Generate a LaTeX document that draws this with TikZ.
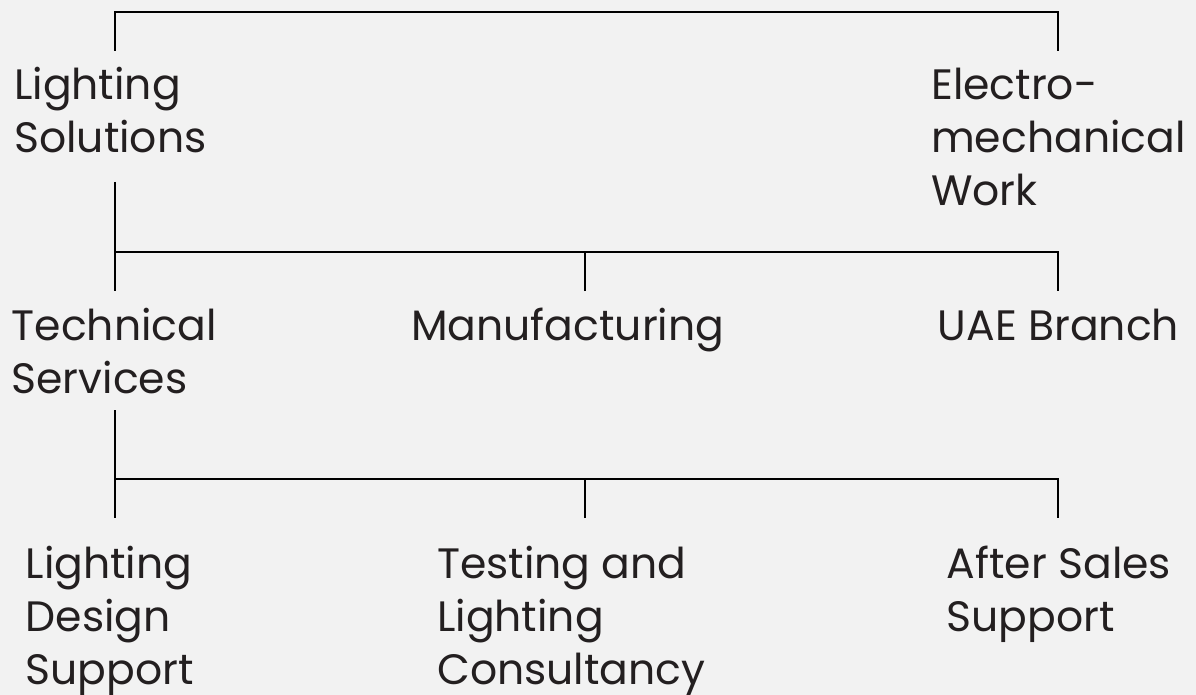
\documentclass[tikz,border=0pt]{standalone}
\usepackage{fontspec}
\setmainfont{Poppins}
\usepackage{tikz}

\definecolor{paper}{HTML}{F2F2F2}
\definecolor{ink}{HTML}{231F20}

\tikzset{
    unit/.style={anchor=base west, align=left, inner sep=0pt, text=ink,
        font=\fontsize{42.5}{53}\selectfont},
    link/.style={line width=1.6pt, black}
}

\begin{document}
\begin{tikzpicture}[
            x=1pt, y=-1pt,
            declare function={
                LeftX=115;
                MidX=585;
                RightX=1058;
                BusOne=252;
                BusTwo=479;
            }
        ]
            \fill[paper] (0, 0) rectangle (1196, 695);
            \useasboundingbox (0, 0) rectangle (1196, 695);

            % top level (base = last line)
            \node[unit] (lighting) at (14, 153) {Lighting\\Solutions};
            \node[unit] (electro) at (931, 206) {Electro-\\mechanical\\Work};

            % second level
            \node[unit] (technical) at (11.5, 393) {Technical\\Services};
            \node[unit] (manufact) at (411, 340) {Manufacturing};
            \node[unit] (uae) at (937.5, 340) {UAE Branch};

            % third level
            \node[unit] (design) at (25.5, 684) {Lighting\\Design\\Support};
            \node[unit] (testing) at (437, 684) {Testing and\\Lighting\\Consultancy};
            \node[unit] (aftersales) at (946.5, 631) {After Sales\\Support};

            % line ends
            \coordinate (lighting-in) at (LeftX, 51);
            \coordinate (electro-in) at (RightX, 51);
            \coordinate (lighting-out) at (LeftX, 182);
            \coordinate (technical-in) at (LeftX, 291);
            \coordinate (manufact-in) at (MidX, 291);
            \coordinate (uae-in) at (RightX, 291);
            \coordinate (technical-out) at (LeftX, 410);
            \coordinate (design-in) at (LeftX, 518);
            \coordinate (testing-in) at (MidX, 518);
            \coordinate (aftersales-in) at (RightX, 518);
            \coordinate (busone) at (LeftX, BusOne);
            \coordinate (bustwo) at (LeftX, BusTwo);

            \draw[link] (lighting-in) -- ++(0, -39) -| (electro-in);

            \draw[link] (lighting-out) -- (technical-in);
            \draw[link] (busone) -| (uae-in);
            \draw[link] (manufact-in) -- (manufact-in |- busone);

            \draw[link] (technical-out) -- (design-in);
            \draw[link] (bustwo) -| (aftersales-in);
            \draw[link] (testing-in) -- (testing-in |- bustwo);
        \end{tikzpicture}
\end{document}
